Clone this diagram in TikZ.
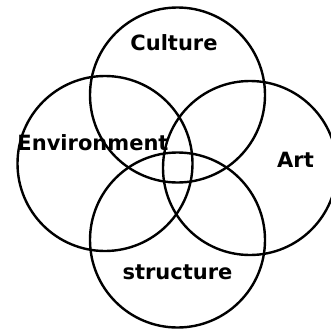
\documentclass[tikz,border=0pt]{standalone}
\usepackage{fontspec}
\setmainfont{DejaVu Sans}
\begin{document}
\begin{tikzpicture}[x=1pt,y=-1pt,line width=2.4pt,
    lbl/.style={font=\fontsize{21}{25}\selectfont\bfseries,anchor=base,inner sep=0pt}]
                        \clip (0,0) rectangle (331,329);
                        \coordinate (C) at (177.5,95);
                        \coordinate (E) at (105,163.5);
                        \coordinate (A) at (250,168);
                        \coordinate (S) at (177.5,240);
                        \draw (C) circle (87.5pt);
                        \draw (E) circle (87.5pt);
                        \draw (A) circle (87pt);
                        \draw (S) circle (87.5pt);
                        \node[lbl] (culture) at (174,50.7) {Culture};
                        \node[lbl] (environment) at (93,150.5) {Environment};
                        \node[lbl] (art) at (295.5,167.3) {Art};
                        \node[lbl] (structure) at (177.5,279) {structure};
                    \end{tikzpicture}
\end{document}
